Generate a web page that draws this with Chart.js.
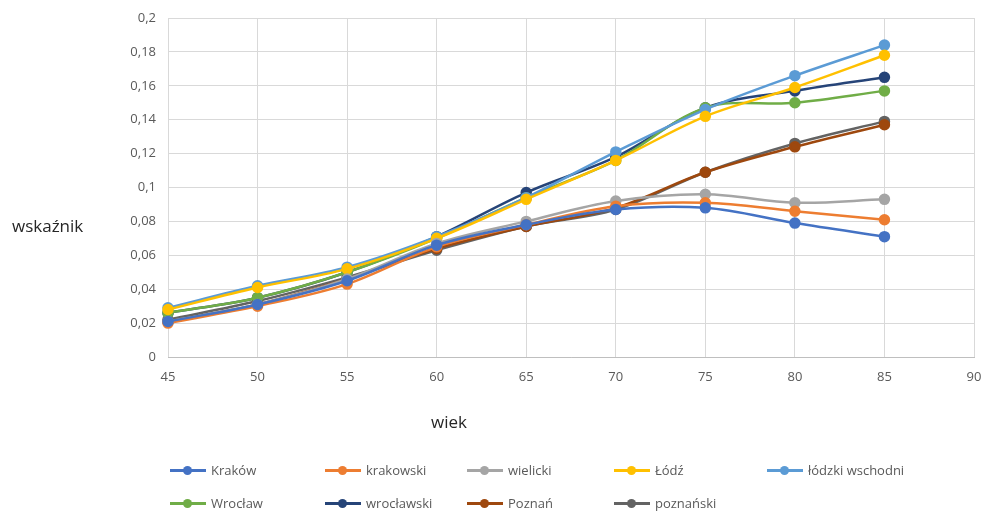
<!DOCTYPE html>
<html>
<head>
<meta charset="utf-8">
<script src="https://cdn.jsdelivr.net/npm/chart.js@4"></script>
<style>
  body { margin: 0; background: #fff; font-family: "Open Sans", "Liberation Sans", sans-serif; }
  #wrap { position: relative; width: 988px; height: 512px; }
  canvas { position: absolute; left: 0; top: 0; }
  .title { position: absolute; font-size: 17px; color: #262626; }
  .leg { position: absolute; display: flex; align-items: center; font-size: 13px; color: #595959; white-space: nowrap; }
  .leg .sw { position: relative; width: 36px; height: 3px; margin-right: 5px; }
  .leg .sw i { position: absolute; left: 13px; top: -3px; width: 9px; height: 9px; border-radius: 50%; }
</style>
</head>
<body>
<div id="wrap">
  <canvas id="chart" width="988" height="512"></canvas>
  <div class="title" style="left:12px; top:214px;">wskaźnik</div>
  <div class="title" style="left:431px; top:410px;">wiek</div>
</div>
<script>
const ages = ['45', '50', '55', '60', '65', '70', '75', '80', '85', '90'];
const seriesNames = ['Kraków', 'krakowski', 'wielicki', 'Łódź', 'łódzki wschodni', 'Wrocław', 'wrocławski', 'Poznań', 'poznański'];
const seriesColors = ['#4472C4', '#ED7D31', '#A5A5A5', '#FFC000', '#5B9BD5', '#70AD47', '#264478', '#9E480E', '#636363'];

const krakow = [0.021, 0.031, 0.045, 0.066, 0.078, 0.087, 0.088, 0.079, 0.071];
const krakowski = [0.020, 0.030, 0.043, 0.065, 0.078, 0.089, 0.091, 0.086, 0.081];
const wielicki = [0.021, 0.031, 0.046, 0.067, 0.080, 0.092, 0.096, 0.091, 0.093];
const lodz = [0.028, 0.041, 0.052, 0.070, 0.093, 0.116, 0.142, 0.159, 0.178];
const lodzkiWschodni = [0.029, 0.042, 0.053, 0.071, 0.094, 0.121, 0.146, 0.166, 0.184];
const wroclaw = [0.026, 0.035, 0.050, 0.070, 0.094, 0.116, 0.147, 0.150, 0.157];
const wroclawski = [0.026, 0.035, 0.050, 0.071, 0.097, 0.118, 0.147, 0.157, 0.165];
const poznan = [0.021, 0.031, 0.046, 0.064, 0.077, 0.088, 0.109, 0.124, 0.137];
const poznanski = [0.022, 0.033, 0.047, 0.063, 0.077, 0.087, 0.109, 0.126, 0.139];

const yTicks = [0, 0.02, 0.04, 0.06, 0.08, 0.1, 0.12, 0.14, 0.16, 0.18, 0.2];

const seriesValues = [krakow, krakowski, wielicki, lodz, lodzkiWschodni, wroclaw, wroclawski, poznan, poznanski];

const datasets = seriesNames.map((name, i) => ({
    label: name,
    data: seriesValues[i],
    borderColor: seriesColors[i],
    backgroundColor: seriesColors[i],
    borderWidth: 2.5,
    pointRadius: 4.5,
    pointHoverRadius: 4.5,
    tension: 0.35,
    fill: false
}));

const tickFont = { family: '"Open Sans", "Liberation Sans", sans-serif', size: 13 };

new Chart(document.getElementById('chart'), {
    type: 'line',
    data: { labels: ages, datasets: datasets },
    options: {
        responsive: false,
        animation: false,
        layout: { padding: { top: 18, right: 14, left: 0, bottom: 0 } },
        plugins: { legend: { display: false }, tooltip: { enabled: false } },
        scales: {
            x: {
                offset: false,
                grid: { color: '#D9D9D9', drawTicks: false },
                border: { color: '#BFBFBF' },
                ticks: { color: '#595959', font: tickFont, padding: 12, maxRotation: 0 },
                afterFit: (s) => { s.height = 155; s.paddingRight = 0; s.paddingLeft = 0; }
            },
            y: {
                min: 0, max: 0.2,
                afterBuildTicks: (s) => { s.ticks = yTicks.map(v => ({ value: v })); },
                grid: { color: '#D9D9D9', drawTicks: false },
                border: { display: false },
                ticks: {
                    color: '#595959', font: tickFont, padding: 12,
                    callback: (v) => String(+v.toFixed(2)).replace('.', ',')
                },
                afterFit: (s) => { s.width = 168; s.paddingTop = 0; s.paddingBottom = 0; }
            }
        }
    }
});

// legend laid out like the original: two rows, fixed columns
const legendX = [170, 325, 467, 614, 767];
const wrap = document.getElementById('wrap');
seriesNames.forEach((name, i) => {
    const row = Math.floor(i / 5), col = i % 5;
    const el = document.createElement('div');
    el.className = 'leg';
    el.style.left = legendX[col] + 'px';
    el.style.top = (461 + row * 33) + 'px';
    el.innerHTML = '<span class="sw" style="background:' + seriesColors[i] + '"><i style="background:' + seriesColors[i] + '"></i></span>' + name;
    wrap.appendChild(el);
});
</script>
</body>
</html>
